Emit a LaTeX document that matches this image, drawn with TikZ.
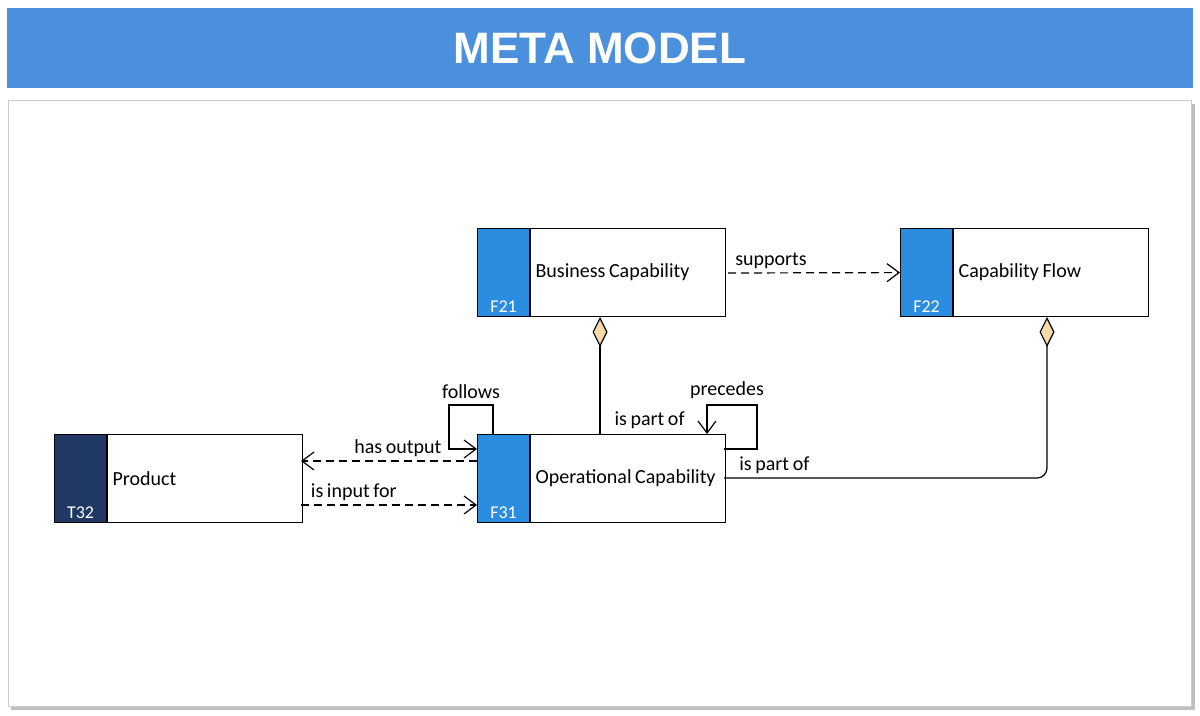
\documentclass[tikz,border=0pt]{standalone}
\usepackage{fontspec}
\setmainfont{Carlito}[WordSpace=0.8]
\newfontfamily\titlefont{Liberation Sans}
\usetikzlibrary{arrows.meta,positioning,shapes.geometric}
\definecolor{headblue}{HTML}{4A90DC}
\definecolor{tabblue}{HTML}{2B8DE0}
\definecolor{tabnavy}{HTML}{1F3864}
\definecolor{diamondfill}{HTML}{F6D9A8}
\tikzset{
    % boxes
    body/.style={draw,semithick,fill=white,minimum width=97.5pt,minimum height=44pt,anchor=north west,inner sep=0pt},
    capname/.style={anchor=west,inner sep=2.5pt,font=\fontsize{10}{12}\selectfont},
    tab/.style={draw,semithick,fill=#1,minimum width=26pt,minimum height=44pt,anchor=north west,inner sep=0pt},
    code/.style={text=white,font=\fontsize{9}{10}\selectfont,anchor=south,inner sep=2pt},
    lbl/.style={font=\fontsize{10}{12}\selectfont,inner sep=1pt},
    % connectors
    open tip/.tip={Straight Barb[length=6pt,width=9pt]},
    dep/.style={semithick,dashed,dash pattern=on 4pt off 2.5pt,-{open tip}},
    loop/.style={semithick,-{open tip}},
    agg/.style={semithick,{Diamond[open,fill=diamondfill,length=15pt,width=7.5pt]}-,rounded corners=5pt}
}
\newcommand{\capbox}[6]{%
    \node[tab=#6] (#1t) at (#2,#3) {};
    \node[body,right=0pt of #1t.north east,anchor=north west] (#1) {};
    \node[capname] (#1n) at (#1.west) {#5};
    \node[code] at (#1t.south) {#4};
}
\begin{document}
\begin{tikzpicture}[x=0.5pt,y=-0.5pt]
    \useasboundingbox (0,0) rectangle (1200,716);
    % header and panel
    \fill[headblue] (7,8) rectangle (1193,88);
    \node[text=white,font=\titlefont\bfseries\fontsize{22}{24}\selectfont] (title) at (600,48) {META MODEL};
    \fill[black!25] (11,104) rectangle (1195,710);
    \draw[black!20,fill=white] (8,100) rectangle (1191,706);
    % classes
    \capbox{bc}{477}{228}{F21}{Business Capability}{tabblue}
    \capbox{cf}{900}{228}{F22}{Capability Flow}{tabblue}
    \capbox{pr}{54}{434}{T32}{Product}{tabnavy}
    \capbox{oc}{477}{434}{F31}{Operational Capability}{tabblue}
    % coordinates for connectors
    \coordinate (bcd) at (600,317);
    \coordinate (ocp) at (600,434);
    \coordinate (cfd) at (1047,317);
    \coordinate (ocr) at (724,478);
    % relations
    \draw[dep] (728,273) -- (cft.west) node[lbl,pos=.25,above=1pt] {supports};
    \draw[agg] (bcd) -- (ocp) node[lbl,pos=.88,right=6pt] {is part of};
    \draw[agg] (cfd) |- (ocr);
    \node[lbl,anchor=west] (ipo) at (737,465) {is part of};
    \draw[dep] (477,461) -- (301,461) node[lbl,pos=.45,above=1pt] {has output};
    \draw[dep] (301,505) -- (477,505) node[lbl,pos=.3,above=1pt] {is input for};
    \draw[loop] (493,434) -- (493,405) -- (449,405) node[lbl,pos=.5,above=2pt] {follows} -- (449,449) -- (477,449);
    \draw[loop] (724,449) -- (757,449) -- (757,405) -- (707,405) node[lbl,pos=.6,above=2pt] {precedes} -- (707,434);
\end{tikzpicture}
\end{document}
